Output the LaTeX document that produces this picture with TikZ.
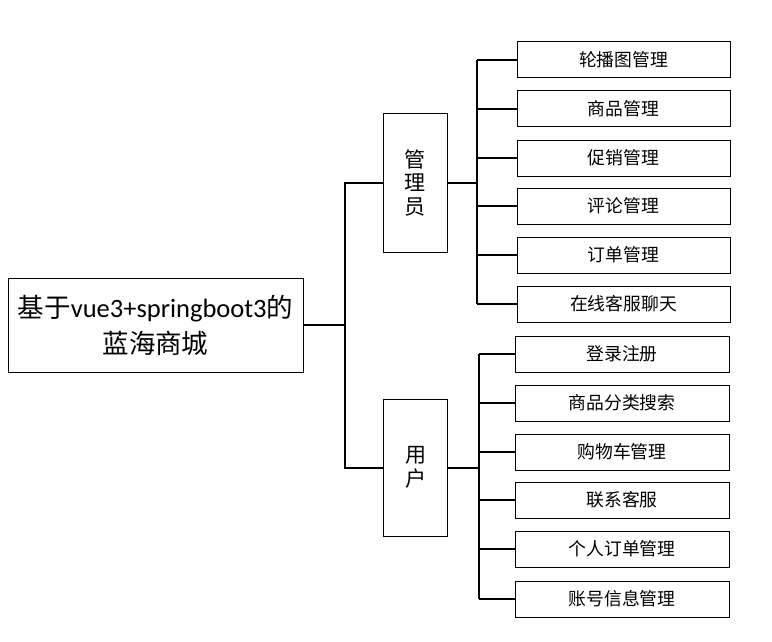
\documentclass[tikz,border=0pt]{standalone}
\usepackage{fontspec}
\setmainfont{Carlito}
\newfontfamily\cjk{Noto Sans CJK SC}
\tikzset{
  box/.style={draw=black, line width=1pt, fill=white, inner sep=0pt, align=center},
  rootbox/.style={box, minimum width=295pt, minimum height=94pt, font=\fontsize{26.5}{36}\selectfont},
  rolebox/.style={box, minimum width=64pt, minimum height=138pt, font=\cjk\fontsize{21}{23.5}\selectfont},
  leafbox/.style={box, minimum width=214pt, minimum height=36pt, font=\cjk\fontsize{17.8}{20}\selectfont},
  link/.style={draw=black, line width=1.2pt},
  trunk/.style={draw=black, line width=2pt}
}
\begin{document}
\begin{tikzpicture}[x=1pt, y=-1pt]
\useasboundingbox (0,0) rectangle (772,642);
% nodes
\node[rootbox] (root) at (155.5,325) {{\cjk 基于}vue3+springboot3{\cjk 的}\\{\cjk 蓝海商城}};
\node[rolebox] (admin) at (415,183) {管\\理\\员};
\node[rolebox, minimum height=137pt] (user) at (415.5,467.5) {用\\户};
\node[leafbox, minimum width=213pt] (a1) at (623.5,60) {轮播图管理};
\node[leafbox, minimum width=213pt] (a2) at (623.5,109) {商品管理};
\node[leafbox, minimum width=213pt] (a3) at (623.5,158) {促销管理};
\node[leafbox, minimum width=213pt] (a4) at (623.5,206) {评论管理};
\node[leafbox, minimum width=213pt] (a5) at (623.5,255) {订单管理};
\node[leafbox, minimum width=213pt] (a6) at (623.5,304) {在线客服聊天};
\node[leafbox] (u1) at (622,354) {登录注册};
\node[leafbox] (u2) at (622,403) {商品分类搜索};
\node[leafbox] (u3) at (622,452) {购物车管理};
\node[leafbox] (u4) at (622,500) {联系客服};
\node[leafbox] (u5) at (622,549) {个人订单管理};
\node[leafbox] (u6) at (622,599) {账号信息管理};
% bus coordinates
\coordinate (rb) at (345,325);
\coordinate (ab) at (477,183);
\coordinate (ub) at (479,468);
% root connectors
\draw[link] (root.east) -- (rb);
\draw[link] (admin.west) -| (rb);
\draw[link] (user.west |- ub) -| (rb);
% admin connectors
\draw[trunk] (admin.east) -- (ab);
\draw[link] (a1.west -| ab) -- (a6.west -| ab);
\foreach \n in {a1,a2,a3,a4,a5,a6} {\draw[link] (\n.west) -- (\n.west -| ab);}
% user connectors
\draw[trunk] (user.east |- ub) -- (ub);
\draw[link] (u1.west -| ub) -- (u6.west -| ub);
\foreach \n in {u1,u2,u3,u4,u5,u6} {\draw[link] (\n.west) -- (\n.west -| ub);}
\end{tikzpicture}
\end{document}
